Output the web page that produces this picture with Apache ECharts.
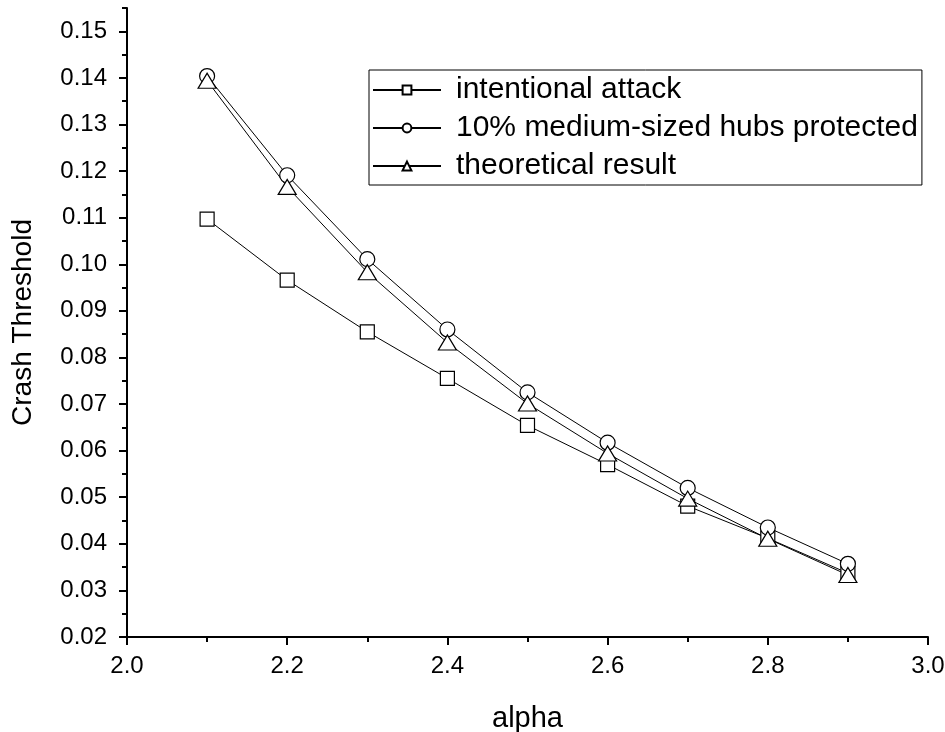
<!DOCTYPE html>
<html>
<head>
<meta charset="utf-8">
<script src="https://cdn.jsdelivr.net/npm/echarts@6/dist/echarts.min.js"></script>
<style>
  html, body { margin: 0; padding: 0; background: #fff; }
  #chart { width: 945px; height: 732px; }
</style>
</head>
<body>
<div id="chart"></div>
<script>
// data
var alpha = [2.1, 2.2, 2.3, 2.4, 2.5, 2.6, 2.7, 2.8, 2.9]
var attack = [0.1097, 0.0966, 0.0855, 0.0755, 0.0654, 0.0570, 0.0481, 0.0412, 0.0337]
var protectedHubs = [0.1404, 0.1191, 0.1011, 0.0860, 0.0725, 0.0617, 0.0520, 0.0435, 0.0357]
var theory = [0.1394, 0.1166, 0.0983, 0.0832, 0.0701, 0.0594, 0.0497, 0.0411, 0.0333]
var yTicks = [0.02, 0.03, 0.04, 0.05, 0.06, 0.07, 0.08, 0.09, 0.10, 0.11, 0.12, 0.13, 0.14, 0.15]
var seriesNames = ['intentional attack', '10% medium-sized hubs protected', 'theoretical result']

var font = 'Liberation Sans, Arial, sans-serif'

function pairs(ys) {
  return alpha.map(function (x, i) { return [x, ys[i]] })
}

function makeSeries(name, ys, symbol, size) {
  return {
    name: name,
    type: 'line',
    data: pairs(ys),
    symbol: symbol,
    symbolSize: size,
    showAllSymbol: true,
    lineStyle: { color: '#000', width: 1 },
    itemStyle: { color: '#fff', borderColor: '#000', borderWidth: 1.2 },
    emphasis: { disabled: true },
    animation: false,
    yAxisIndex: 0
  }
}

var chart = echarts.init(document.getElementById('chart'))
chart.setOption({
  backgroundColor: '#fff',
  // v6 would shrink the grid to fit labels; keep the plot where the picture has it
  grid: { left: 127, right: 17, top: 8, bottom: 95, outerBoundsMode: 'none' },
  legend: {
    orient: 'vertical',
    left: 369,
    top: 70,
    data: seriesNames,
    itemWidth: 68,
    itemHeight: 11,
    itemGap: 8,
    padding: [5, 4, 4, 3],
    borderColor: '#000',
    borderWidth: 1,
    textStyle: { fontFamily: font, fontSize: 30, color: '#000', padding: [0, 0, 0, 10] }
  },
  xAxis: {
    type: 'value',
    min: 2.0,
    max: 3.0,
    interval: 0.2,
    name: 'alpha',
    nameLocation: 'middle',
    nameGap: 67,
    nameTextStyle: { fontFamily: font, fontSize: 29, color: '#000' },
    axisLine: { onZero: false, lineStyle: { color: '#000', width: 2 } },
    axisTick: { length: 8, lineStyle: { color: '#000', width: 2 } },
    minorTick: { show: true, splitNumber: 2, length: 5, lineStyle: { color: '#000', width: 2 } },
    splitLine: { show: false },
    axisLabel: {
      fontFamily: font, fontSize: 24, color: '#000', margin: 17,
      formatter: function (v) { return v.toFixed(1) }
    }
  },
  yAxis: [
    {
      type: 'value',
      min: 0.02,
      max: 0.155,
      name: 'Crash Threshold',
      nameLocation: 'middle',
      nameGap: 90,
      nameTextStyle: { fontFamily: font, fontSize: 28, color: '#000' },
      axisLine: { show: true, lineStyle: { color: '#000', width: 2 } },
      axisTick: { show: true, length: 8, customValues: yTicks, lineStyle: { color: '#000', width: 2 } },
      splitLine: { show: false },
      axisLabel: {
        customValues: yTicks,
        fontFamily: font, fontSize: 24, color: '#000', margin: 20,
        formatter: function (v) { return v.toFixed(2) }
      }
    },
    {
      // only the minor ticks
      type: 'value',
      position: 'left',
      min: 0.02,
      max: 0.155,
      interval: 0.005,
      axisLine: { show: false },
      axisTick: { show: true, length: 5, lineStyle: { color: '#000', width: 2 } },
      axisLabel: { show: false },
      splitLine: { show: false }
    }
  ],
  series: [
    makeSeries(seriesNames[0], attack, 'rect', 14),
    makeSeries(seriesNames[1], protectedHubs, 'circle', 15),
    makeSeries(seriesNames[2], theory, 'triangle', [18, 15])
  ]
})
</script>
</body>
</html>
